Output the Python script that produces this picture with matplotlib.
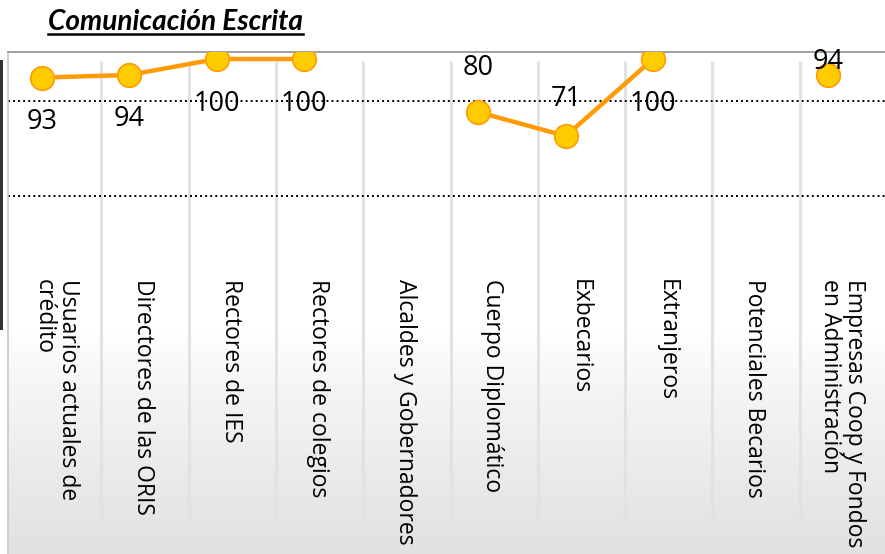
import numpy as np
import matplotlib
matplotlib.use("Agg")
from matplotlib import pyplot as plt
from matplotlib.lines import Line2D
from matplotlib.patches import Rectangle

# categories and values (None = no data)
categorias = ["Usuarios actuales de\ncrédito", "Directores de las ORIS", "Rectores de IES",
              "Rectores de colegios", "Alcaldes y Gobernadores", "Cuerpo Diplomático",
              "Exbecarios", "Extranjeros", "Potenciales Becarios",
              "Empresas Coop y Fondos\nen Administración"]
valores = [93, 94, 100, 100, None, 80, 71, 100, None, 94]
# vertical pixel offset of each data label from its point
label_dy = [44, 44, 45, 45, 0, -44, -37, 45, 0, -13]

W, H = 885, 554
fig = plt.figure(figsize=(W / 100, H / 100), dpi=100)
fig.patch.set_facecolor("white")

ax = fig.add_axes([8 / W, 0, 877 / W, 502 / H])
x = np.arange(len(categorias))
y = np.array([np.nan if v is None else v for v in valores], dtype=float)

ax.set_xlim(-0.389, 9.656)

# soft gradient at the bottom
grad = np.concatenate([np.zeros(55), np.linspace(0, 1, 45) ** 0.8])[:, None]
ax.imshow(1 - 0.12 * grad, cmap="gray", vmin=0, vmax=1, aspect="auto", origin="upper",
          extent=[-0.389, 9.656, -86.4, 102.64], zorder=0, interpolation="bilinear")
ax.set_ylim(-86.4, 102.64)

# category separators
for i in range(1, len(categorias)):
    ax.vlines(i - 0.32, -86.4, 99.2, color="#e2e2e2", lw=2.2, zorder=1)

# dotted gridlines
for g in [84.0, 48.4]:
    ax.axhline(g, color="black", lw=1.4, ls=(0, (1, 1.6)), zorder=2)

ax.plot(x, y, color="#ff9b05", lw=3.2, zorder=3, solid_capstyle="round",
        marker="o", markersize=17, markerfacecolor="#ffcc00",
        markeredgecolor="#ff9b05", markeredgewidth=1.2)

for xi, v, dy in zip(x, valores, label_dy):
    if v is None:
        continue
    ax.annotate(str(v), (xi, v), xytext=(0, -dy), textcoords="offset pixels",
                ha="center", va="center", fontsize=19.5, family="Open Sans",
                color="black", zorder=4)

for xi, cat in zip(x, categorias):
    ax.text(xi + 0.16, 17, cat, rotation=-90, ha="center", va="top",
            multialignment="left", fontsize=16.5, family="Open Sans",
            color="black", linespacing=1.0, zorder=4)

ax.set_xticks([])
ax.set_yticks([])
for s in ["right", "bottom"]:
    ax.spines[s].set_visible(False)
ax.spines["top"].set_color("#9a9a9a")
ax.spines["top"].set_linewidth(1.3)
ax.spines["left"].set_color("#c8c8c8")
ax.spines["left"].set_linewidth(1.2)

# dark edge at far left
fig.add_artist(Rectangle((0, 1 - 330 / H), 3 / W, (330 - 60) / H,
                         transform=fig.transFigure, color="#333333", lw=0))

# title with underline
t = fig.text(48 / W, 1 - 30 / H, "Comunicación Escrita", family="Lato",
             fontweight="bold", fontstyle="italic", fontsize=20.2, color="black",
             va="baseline", ha="left")
fig.canvas.draw()
bb = t.get_window_extent()
uy = 1 - 34 / H
fig.add_artist(Line2D([bb.x0 / W, bb.x1 / W], [uy, uy], transform=fig.transFigure,
                      color="black", lw=1.8))

fig.savefig("out.png", dpi=100)
